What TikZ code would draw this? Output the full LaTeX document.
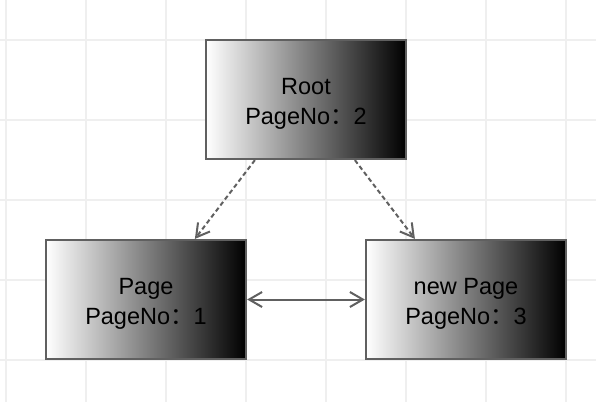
\documentclass[tikz,border=0pt]{standalone}
\usepackage{fontspec}
\setmainfont{Liberation Sans}
\newfontfamily\cjk{Noto Sans CJK SC}
\usetikzlibrary{arrows.meta,calc}
\definecolor{gridc}{HTML}{EFEFEF}
\definecolor{edgec}{HTML}{606060}
\tikzset{
  pagebox/.style={rectangle, draw=edgec, line width=2.2pt, left color=white, right color=black,
    minimum width=200pt, minimum height=119pt, inner sep=0pt},
  boxlabel/.style={align=center, text=black, inner sep=0pt, font=\fontsize{23.5}{30}\selectfont},
  tipb/.tip={Straight Barb[length=13pt,width=15pt,line width=2pt]},
  conn/.style={draw=edgec, line width=2pt, arrows={-tipb}},
  dashconn/.style={conn, dash pattern=on 4.5pt off 3pt},
  biconn/.style={draw=edgec, line width=2pt, arrows={tipb-tipb}}
}
\begin{document}
\begin{tikzpicture}[x=1pt,y=-1pt]
\useasboundingbox (0,0) rectangle (596,402);
\fill[white] (0,0) rectangle (596,402);
\foreach \gx in {6,86,...,566} \draw[gridc, line width=1.8pt] (\gx,0) -- (\gx,402);
\foreach \gy in {40,120,...,360} \draw[gridc, line width=1.8pt] (0,\gy) -- (596,\gy);
\node[pagebox] (root) at (306,99.5) {};
\node[pagebox] (page) at (146,299.5) {};
\node[pagebox] (newpage) at (466,299.5) {};
\node[boxlabel] (roott) at ([yshift=-4pt]root.center) {Root\\PageNo{\cjk ：}2};
\node[boxlabel] (paget) at ([yshift=-4pt]page.center) {Page\\PageNo{\cjk ：}1};
\node[boxlabel] (newpaget) at ([yshift=-4pt]newpage.center) {new Page\\PageNo{\cjk ：}3};
\draw[dashconn] ($(root.south west)+(50,0)$) -- ($(page.north west)+(150,0)$);
\draw[dashconn] ($(root.south west)+(150,0)$) -- ($(newpage.north west)+(50,0)$);
\draw[biconn] (page.east) -- (newpage.west);
\end{tikzpicture}
\end{document}
